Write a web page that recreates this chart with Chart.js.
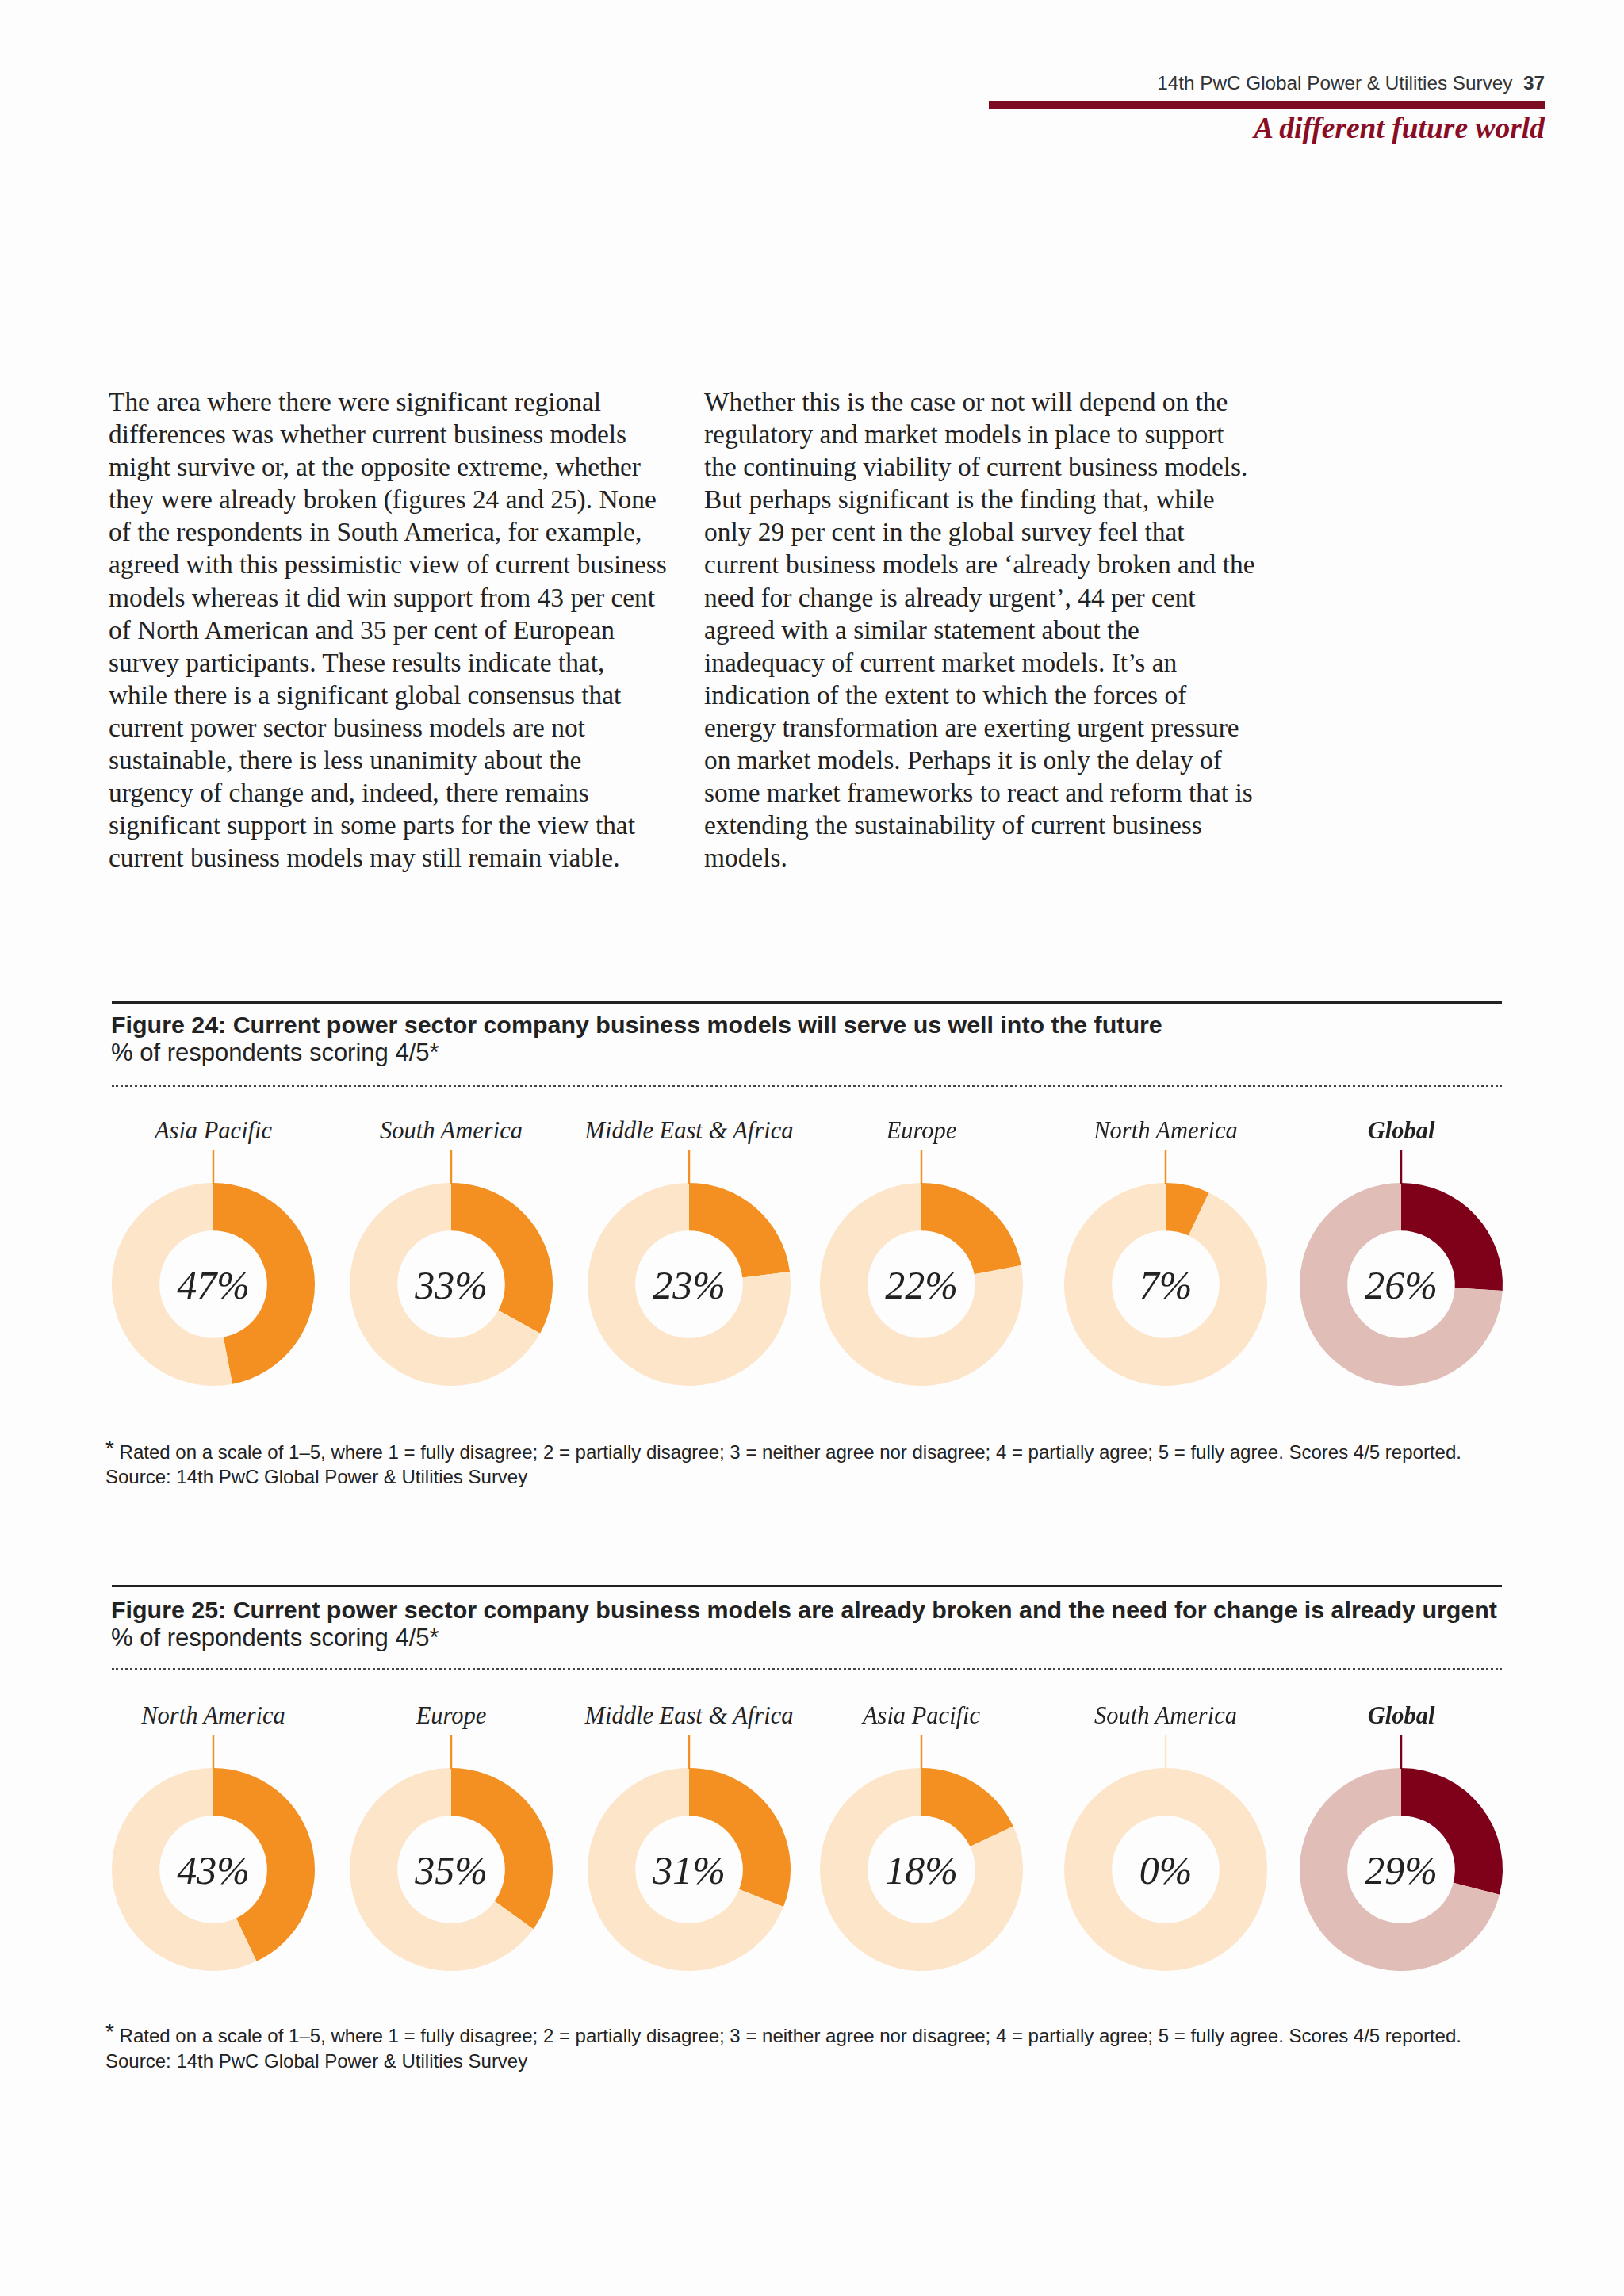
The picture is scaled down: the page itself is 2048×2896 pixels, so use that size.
<!DOCTYPE html>
<html>
<head>
<meta charset="utf-8">
<script src="https://cdn.jsdelivr.net/npm/chart.js@4.4.1/dist/chart.umd.min.js"></script>
<style>
  html, body { margin: 0; padding: 0; }
  body { width: 2048px; height: 2896px; background: #fdfdfd; position: relative; overflow: hidden; color: #222; }
  .abs { position: absolute; white-space: pre; }
  .sans { font-family: "Liberation Sans", Arial, sans-serif; }
  .serif { font-family: "Liberation Serif", "Times New Roman", serif; }
  .rule { position: absolute; left: 141px; width: 1753px; height: 3px; background: #222; }
  .dots { position: absolute; left: 141px; width: 1753px; height: 0; border-top: 3px dotted #444; }
  .region { position: absolute; width: 320px; text-align: center; font-family: "Liberation Serif", serif; font-style: italic; font-size: 30.5px; line-height: 36px; color: #222; }
  .title { font-size: 30.4px; line-height: 36px; font-weight: bold; }
  .sub { font-size: 31px; line-height: 36px; }
  .note { font-size: 24px; line-height: 30px; }
  canvas.donut { position: absolute; }
</style>
</head>
<body>

<div class="abs sans" style="right:100px; top:90px; font-size:24.3px; line-height:30px; color:#333;">14th PwC Global Power &amp; Utilities Survey  <b>37</b></div>
<div style="position:absolute; left:1247px; top:127px; width:701px; height:11px; background:#7d0b22;"></div>
<div class="abs serif" style="right:100px; top:140px; font-size:37.5px; line-height:44px; font-weight:bold; font-style:italic; color:#8a0d26;">A different future world</div>

<div class="abs serif" style="left:137px; top:486px; font-size:33.4px; line-height:41.1px;">The area where there were significant regional
differences was whether current business models
might survive or, at the opposite extreme, whether
they were already broken (figures 24 and 25). None
of the respondents in South America, for example,
agreed with this pessimistic view of current business
models whereas it did win support from 43 per cent
of North American and 35 per cent of European
survey participants. These results indicate that,
while there is a significant global consensus that
current power sector business models are not
sustainable, there is less unanimity about the
urgency of change and, indeed, there remains
significant support in some parts for the view that
current business models may still remain viable.</div>

<div class="abs serif" style="left:888px; top:486px; font-size:33.4px; line-height:41.1px;">Whether this is the case or not will depend on the
regulatory and market models in place to support
the continuing viability of current business models.
But perhaps significant is the finding that, while
only 29 per cent in the global survey feel that
current business models are ‘already broken and the
need for change is already urgent’, 44 per cent
agreed with a similar statement about the
inadequacy of current market models. It’s an
indication of the extent to which the forces of
energy transformation are exerting urgent pressure
on market models. Perhaps it is only the delay of
some market frameworks to react and reform that is
extending the sustainability of current business
models.</div>

<!-- Figure 24 -->
<div class="rule" style="top:1263px;"></div>
<div class="abs sans title" style="left:140px; top:1274px;">Figure 24: Current power sector company business models will serve us well into the future</div>
<div class="abs sans sub" style="left:140px; top:1310px;">% of respondents scoring 4/5*</div>
<div class="dots" style="top:1368px;"></div>
<div id="fig24"></div>
<div class="abs sans note" style="left:133px; top:1816px;"><span style="font-size:28px; position:relative; top:-4px;">*</span> Rated on a scale of 1–5, where 1 = fully disagree; 2 = partially disagree; 3 = neither agree nor disagree; 4 = partially agree; 5 = fully agree. Scores 4/5 reported.</div>
<div class="abs sans note" style="left:133px; top:1848px;">Source: 14th PwC Global Power &amp; Utilities Survey</div>

<!-- Figure 25 -->
<div class="rule" style="top:1999px;"></div>
<div class="abs sans title" style="left:140px; top:2012px;">Figure 25: Current power sector company business models are already broken and the need for change is already urgent</div>
<div class="abs sans sub" style="left:140px; top:2048px;">% of respondents scoring 4/5*</div>
<div class="dots" style="top:2104px;"></div>
<div id="fig25"></div>
<div class="abs sans note" style="left:133px; top:2552px;"><span style="font-size:28px; position:relative; top:-4px;">*</span> Rated on a scale of 1–5, where 1 = fully disagree; 2 = partially disagree; 3 = neither agree nor disagree; 4 = partially agree; 5 = fully agree. Scores 4/5 reported.</div>
<div class="abs sans note" style="left:133px; top:2585px;">Source: 14th PwC Global Power &amp; Utilities Survey</div>

<script>
// data
const fig24Regions = ['Asia Pacific', 'South America', 'Middle East & Africa', 'Europe', 'North America', 'Global'];
const fig24Values = [47, 33, 23, 22, 7, 26];

const fig25Regions = ['North America', 'Europe', 'Middle East & Africa', 'Asia Pacific', 'South America', 'Global'];
const fig25Values = [43, 35, 31, 18, 0, 29];

const centersX = [269, 569, 869, 1162, 1470, 1767];

const orange = '#f39021';
const peach = '#fde5ca';
const globalDark = '#7e0019';
const globalLight = '#e0bdb6';

// draws the little tick above the ring and the % in the middle
const donutDecor = {
  id: 'donutDecor',
  afterDraw(chart) {
    const arc = chart.getDatasetMeta(0).data[0];
    const ctx = chart.ctx;
    const cx = arc.x, cy = arc.y, r = arc.outerRadius;
    const opts = chart.options.plugins.donutDecor;
    ctx.save();
    ctx.strokeStyle = opts.tickColor;
    ctx.lineWidth = 2.5;
    ctx.beginPath();
    ctx.moveTo(cx, cy - r + 1);
    ctx.lineTo(cx, cy - r - 42);
    ctx.stroke();
    ctx.fillStyle = '#222';
    ctx.font = 'italic 50px "Liberation Serif", serif';
    ctx.textAlign = 'center';
    ctx.textBaseline = 'alphabetic';
    ctx.fillText(opts.text, cx, cy + 18);
    ctx.restore();
  }
};

function drawFigure(holderId, regions, values, cy) {
  const holder = document.getElementById(holderId);
  regions.forEach((name, i) => {
    const cx = centersX[i];
    const isGlobal = name === 'Global';
    const main = isGlobal ? globalDark : orange;
    const light = isGlobal ? globalLight : peach;

    const label = document.createElement('div');
    label.className = 'region';
    label.style.left = (cx - 160) + 'px';
    label.style.top = (cy - 194 - 18) + 'px';
    if (isGlobal) label.style.fontWeight = 'bold';
    label.textContent = name;
    holder.appendChild(label);

    const canvas = document.createElement('canvas');
    canvas.className = 'donut';
    canvas.width = 280;
    canvas.height = 324;
    canvas.style.width = '280px';
    canvas.style.height = '324px';
    canvas.style.left = (cx - 140) + 'px';
    canvas.style.top = (cy - 188) + 'px';
    holder.appendChild(canvas);

    new Chart(canvas.getContext('2d'), {
      type: 'doughnut',
      data: {
        labels: ['Scoring 4/5', 'Other'],
        datasets: [{
          data: [values[i], 100 - values[i]],
          backgroundColor: [main, light],
          borderWidth: 0
        }]
      },
      options: {
        responsive: false,
        animation: false,
        events: [],
        cutout: '53%',
        layout: { padding: { top: 60, bottom: 8, left: 12, right: 12 } },
        plugins: {
          legend: { display: false },
          tooltip: { enabled: false },
          donutDecor: { text: values[i] + '%', tickColor: values[i] > 0 ? main : light }
        }
      },
      plugins: [donutDecor]
    });
  });
}

drawFigure('fig24', fig24Regions, fig24Values, 1620);
drawFigure('fig25', fig25Regions, fig25Values, 2358);
</script>
</body>
</html>
